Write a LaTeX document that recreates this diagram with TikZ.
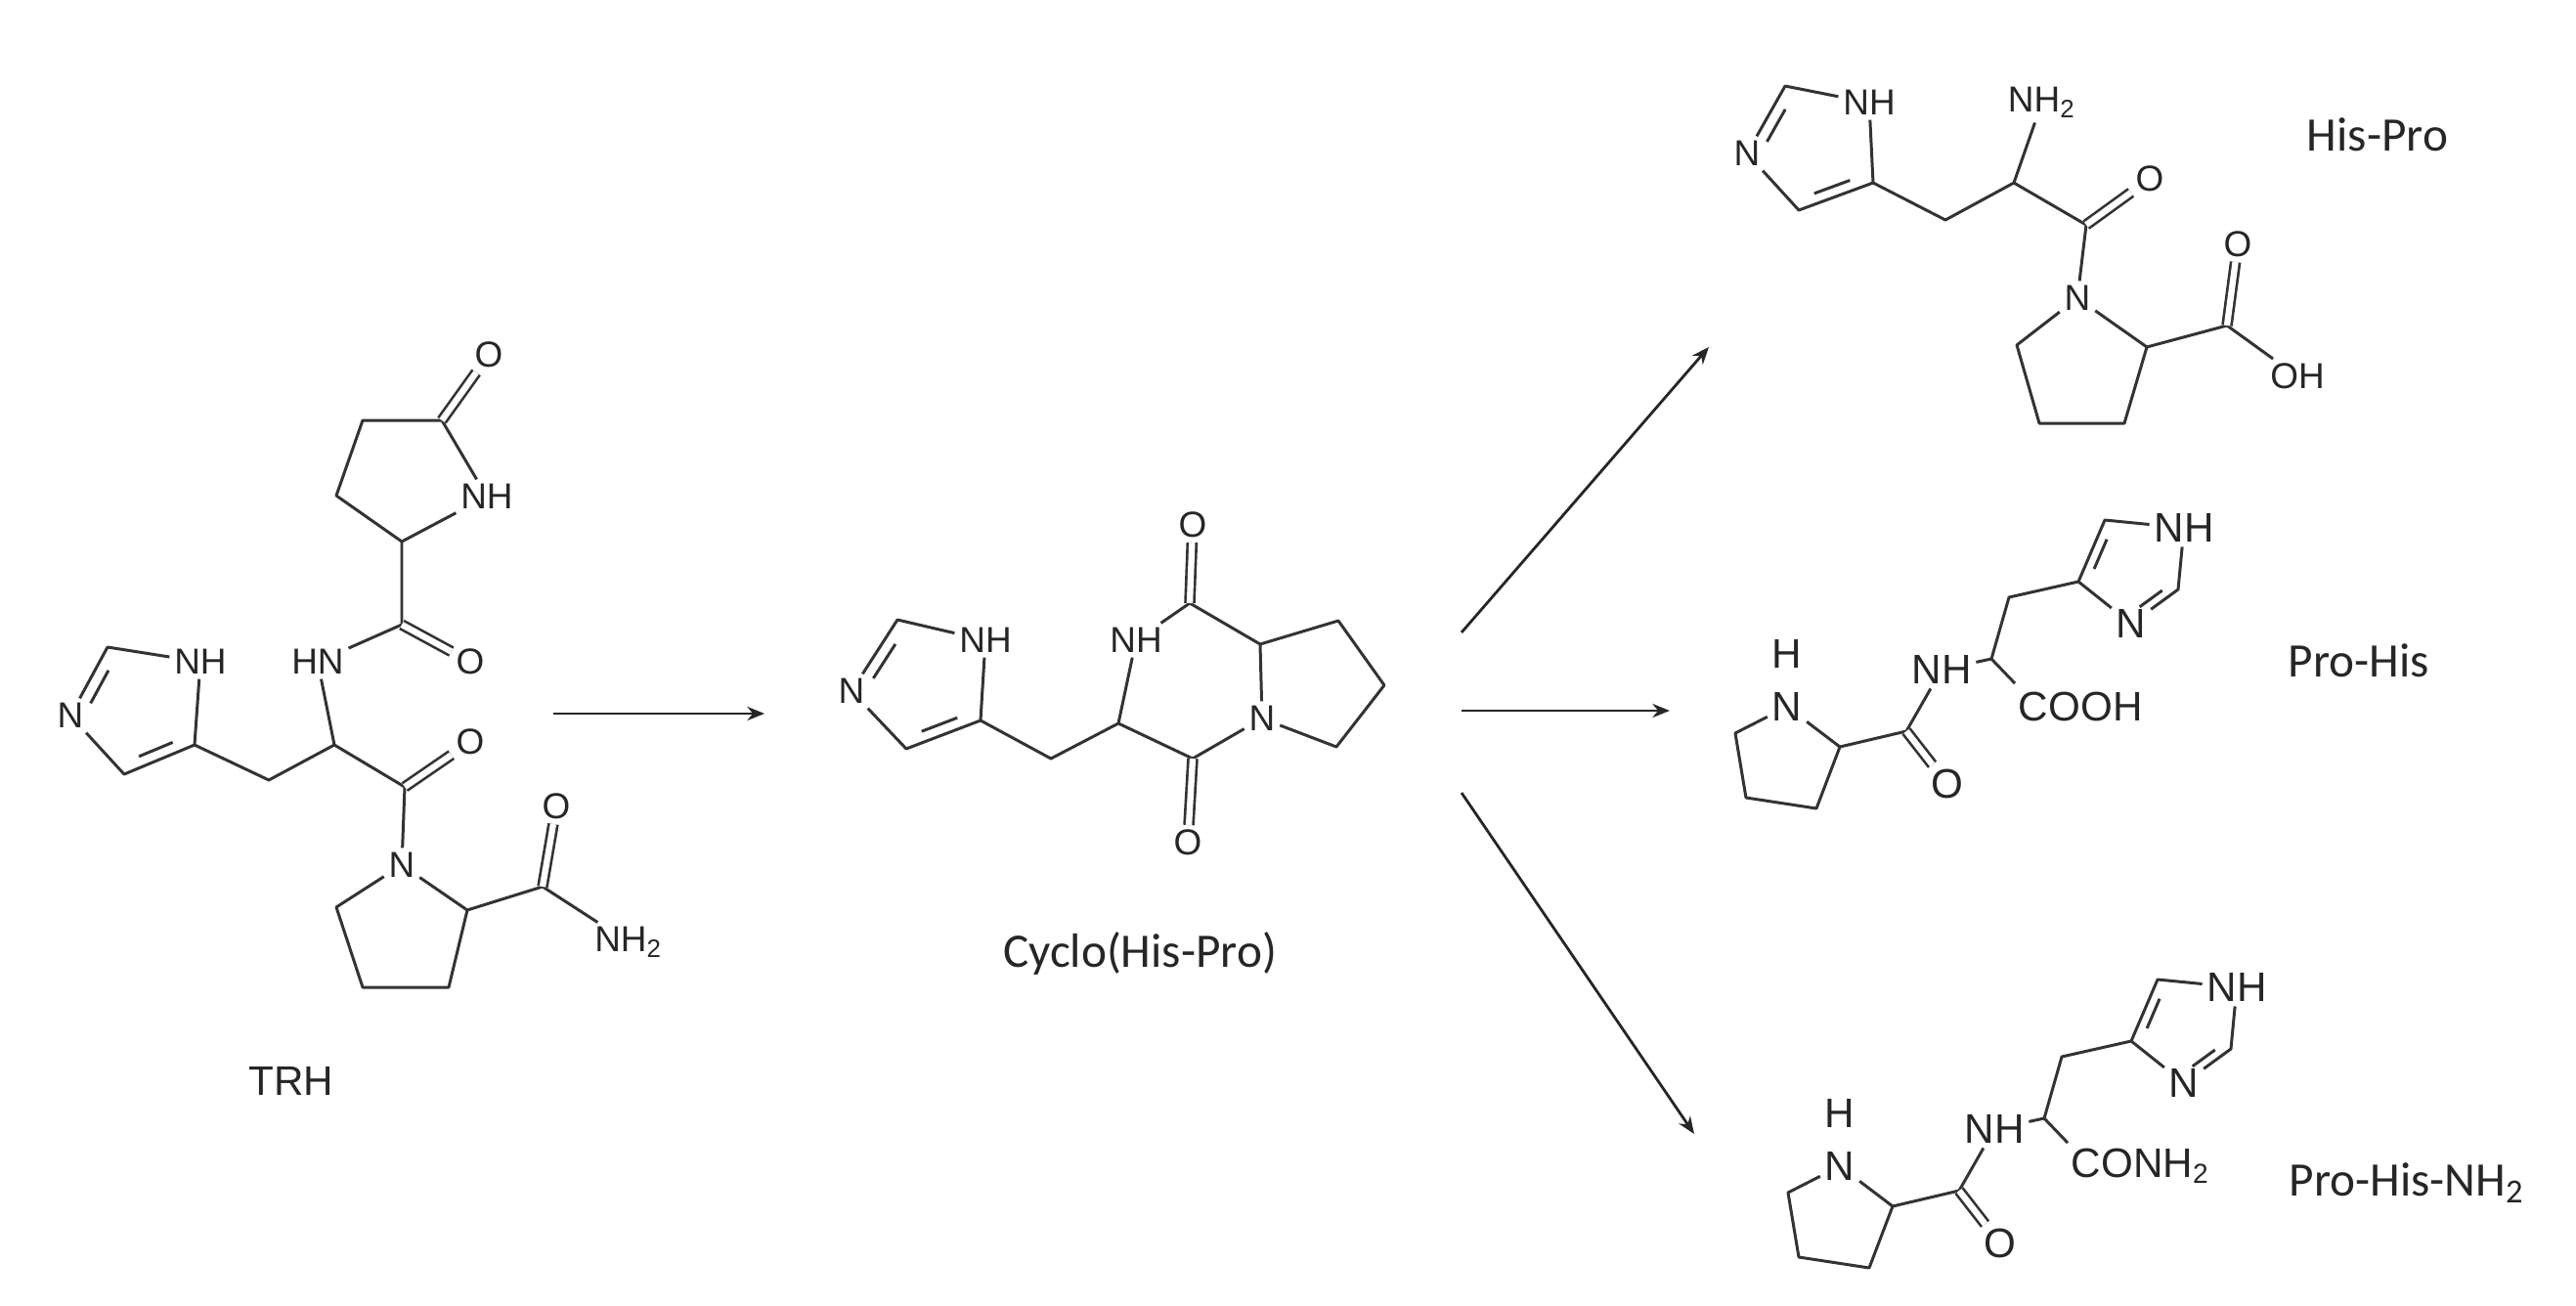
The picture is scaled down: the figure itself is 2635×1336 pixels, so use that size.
\documentclass[tikz,border=0pt]{standalone}
\usepackage{fontspec}
\setmainfont{Liberation Sans}
\newfontfamily\carl{Carlito}
\usetikzlibrary{calc,arrows.meta}
\tikzset{
  atm/.style={inner sep=1.2pt, text=black!85, font=\fontsize{10.5}{10.5}\selectfont},
  atmb/.style={inner sep=1.2pt, text=black!85, font=\fontsize{12}{12}\selectfont},
  bd/.style={line width=0.85pt, draw=black!80, line join=round},
  dbl/.style={bd, double=white, double distance=1.8pt, line width=0.75pt},
  lbl/.style={text=black!85, font=\carl\fontsize{14}{14}\selectfont},
  rxn/.style={line width=0.8pt, draw=black!85, -{Stealth[length=5pt,width=4pt]}}
}
\newcommand\inbond[3]{\draw[bd] ($(#1)!0.2!(#2)!0.2!(#3)$) -- ($(#1)!0.8!(#2)!0.2!(#3)$);}
\newcommand\prohis[2]{%
  \node[atmb] (#1N) at (1828,723) {N};
  \node[atmb] (#1H) at (1828,669) {H};
  \coordinate (#1r1) at (1775,750); \coordinate (#1r2) at (1786,816);
  \coordinate (#1r3) at (1858,827); \coordinate (#1r4) at (1882,764);
  \draw[bd] (#1N) -- (#1r1) -- (#1r2) -- (#1r3) -- (#1r4) -- (#1N);
  \coordinate (#1C) at (1950,748);
  \node[atmb] (#1O) at (1992,802) {O};
  \node[atmb] (#1NH) at (1986,685) {NH};
  \draw[bd] (#1r4) -- (#1C) -- (#1NH);
  \draw[dbl] (#1C) -- (#1O);
  \coordinate (#1Ca) at (2037,674);
  \coordinate (#1Cb) at (2061,699);
  \node[atmb, anchor=west] (#1acid) at (2060,723) {#2};
  \draw[bd] (#1NH) -- (#1Ca) -- (#1Cb);
  \coordinate (#1CH2) at (2055,611);
  \coordinate (#1C4) at (2126,595);
  \coordinate (#1C5) at (2153,532);
  \node[atmb] (#1NHi) at (2234,540) {NH};
  \coordinate (#1C2) at (2228,603);
  \node[atmb] (#1Ni) at (2180,638) {N};
  \coordinate (#1cen) at (2185,580);
  \draw[bd] (#1Ca) -- (#1CH2) -- (#1C4) -- (#1C5) -- (#1NHi) -- (#1C2) -- (#1Ni) -- (#1C4);
  \inbond{#1C4}{#1C5}{#1cen}
  \inbond{#1C2}{#1Ni.center}{#1cen}
}
\begin{document}
\begin{tikzpicture}[x=0.01cm,y=-0.01cm]
\useasboundingbox (0,0) rectangle (2635,1336);
% ---------------- TRH ----------------
\coordinate (t1) at (452,430);
\node[atm] (tO1) at (500,363) {O};
\coordinate (t2) at (371,430);
\coordinate (t3) at (344,507);
\coordinate (t4) at (411,554);
\node[atm] (tN1) at (498,508) {NH};
\draw[bd] (t1) -- (t2) -- (t3) -- (t4) -- (tN1) -- (t1);
\draw[dbl] (t1) -- (tO1);
\coordinate (t5) at (411,639);
\node[atm] (tO2) at (481,677) {O};
\node[atm] (tN2) at (325,677) {HN};
\draw[bd] (t4) -- (t5) -- (tN2);
\draw[dbl] (t5) -- (tO2);
\coordinate (t6) at (342,762);
\coordinate (t7) at (275,798);
\coordinate (tC4) at (199,762);
\draw[bd] (tN2) -- (t6) -- (t7) -- (tC4);
\node[atm] (tNH) at (205,677) {NH};
\coordinate (tC2) at (110,662);
\node[atm] (tN) at (72,732) {N};
\coordinate (tC5) at (127,792);
\coordinate (tcen) at (145,725);
\draw[bd] (tC4) -- (tNH) -- (tC2) -- (tN) -- (tC5) -- (tC4);
\inbond{tC2}{tN.center}{tcen}
\inbond{tC5}{tC4}{tcen}
\coordinate (t8) at (414,805);
\node[atm] (tO3) at (481,759) {O};
\node[atm] (tN3) at (411,885) {N};
\draw[bd] (t6) -- (t8) -- (tN3);
\draw[dbl] (t8) -- (tO3);
\coordinate (p1) at (478,931); \coordinate (p2) at (459,1010);
\coordinate (p3) at (371,1010); \coordinate (p4) at (344,928);
\draw[bd] (tN3) -- (p1) -- (p2) -- (p3) -- (p4) -- (tN3);
\coordinate (t9) at (555,907);
\node[atm] (tO4) at (569,825) {O};
\node[atm] (tNH2) at (643,964) {NH\textsubscript{2}};
\draw[bd] (p1) -- (t9) -- (tNH2);
\draw[dbl] (t9) -- (tO4);
\node[atm, font=\fontsize{12}{12}\selectfont] (trh) at (298,1106) {TRH};
% ---------------- Cyclo ----------------
\coordinate (cC2) at (918,634);
\node[atm] (cNH) at (1008,655) {NH};
\node[atm] (cN) at (871,707) {N};
\coordinate (cC5) at (927,766);
\coordinate (cC4) at (1003,737);
\coordinate (ccen) at (945,700);
\draw[bd] (cC4) -- (cNH) -- (cC2) -- (cN) -- (cC5) -- (cC4);
\inbond{cC2}{cN.center}{ccen}
\inbond{cC5}{cC4}{ccen}
\coordinate (cCH2) at (1075,776);
\coordinate (cCa) at (1144,740);
\node[atm] (cNH2) at (1162,655) {NH};
\coordinate (cTop) at (1217,617);
\node[atm] (cO1) at (1220,537) {O};
\coordinate (cCH) at (1289,659);
\coordinate (cr1) at (1369,635); \coordinate (cr2) at (1416,701); \coordinate (cr3) at (1367,764);
\node[atm] (cNp) at (1291,735) {N};
\coordinate (cBot) at (1220,776);
\node[atm] (cO2) at (1215,862) {O};
\draw[bd] (cC4) -- (cCH2) -- (cCa) -- (cNH2) -- (cTop) -- (cCH) -- (cr1) -- (cr2) -- (cr3) -- (cNp) -- (cCH);
\draw[bd] (cNp) -- (cBot) -- (cCa);
\draw[dbl] (cTop) -- (cO1);
\draw[dbl] (cBot) -- (cO2);
\node[lbl] (cyc) at (1166,975) {Cyclo(His-Pro)};
% ---------------- His-Pro ----------------
\coordinate (hC2) at (1826,88);
\node[atm] (hNH) at (1912,105) {NH};
\node[atm] (hN) at (1787,157) {N};
\coordinate (hC5) at (1840,215);
\coordinate (hC4) at (1916,187);
\coordinate (hcen) at (1858,152);
\draw[bd] (hC4) -- (hNH) -- (hC2) -- (hN) -- (hC5) -- (hC4);
\inbond{hC2}{hN.center}{hcen}
\inbond{hC5}{hC4}{hcen}
\coordinate (hCH2) at (1990,225);
\coordinate (hCa) at (2060,187);
\node[atm, anchor=west] (hNH2) at (2049,105) {NH\textsubscript{2}};
\coordinate (hC) at (2134,230);
\node[atm] (hO) at (2199,183) {O};
\node[atm] (hNp) at (2125,305) {N};
\draw[bd] (hC4) -- (hCH2) -- (hCa) -- (hNH2) ;
\draw[bd] (hCa) -- (hC) -- (hNp);
\draw[dbl] (hC) -- (hO);
\coordinate (hp1) at (2196,355); \coordinate (hp2) at (2173,433);
\coordinate (hp3) at (2086,433); \coordinate (hp4) at (2063,353);
\draw[bd] (hNp) -- (hp1) -- (hp2) -- (hp3) -- (hp4) -- (hNp);
\coordinate (hCc) at (2278,333);
\node[atm] (hO2) at (2289,250) {O};
\node[atm] (hOH) at (2350,385) {OH};
\draw[bd] (hp1) -- (hCc) -- (hOH);
\draw[dbl] (hCc) -- (hO2);
\node[lbl] (hislbl) at (2432,138) {His-Pro};
% ---------------- Pro-His & Pro-His-NH2 ----------------
\prohis{a}{COOH}
\node[lbl] (phlbl) at (2413,676) {Pro-His};
\begin{scope}[shift={(54,470)}]
\prohis{b}{CONH\textsubscript{2}}
\end{scope}
\node[lbl] (phnlbl) at (2462,1210) {Pro-His-NH\textsubscript{2}};
% ---------------- arrows ----------------
\coordinate (a1s) at (566,730); \coordinate (a1e) at (782,730);
\coordinate (a2s) at (1495,647); \coordinate (a2e) at (1748,355);
\coordinate (a3s) at (1495,727); \coordinate (a3e) at (1708,727);
\coordinate (a4s) at (1495,811); \coordinate (a4e) at (1733,1160);
\draw[rxn] (a1s) -- (a1e);
\draw[rxn] (a2s) -- (a2e);
\draw[rxn] (a3s) -- (a3e);
\draw[rxn] (a4s) -- (a4e);
\end{tikzpicture}
\end{document}
